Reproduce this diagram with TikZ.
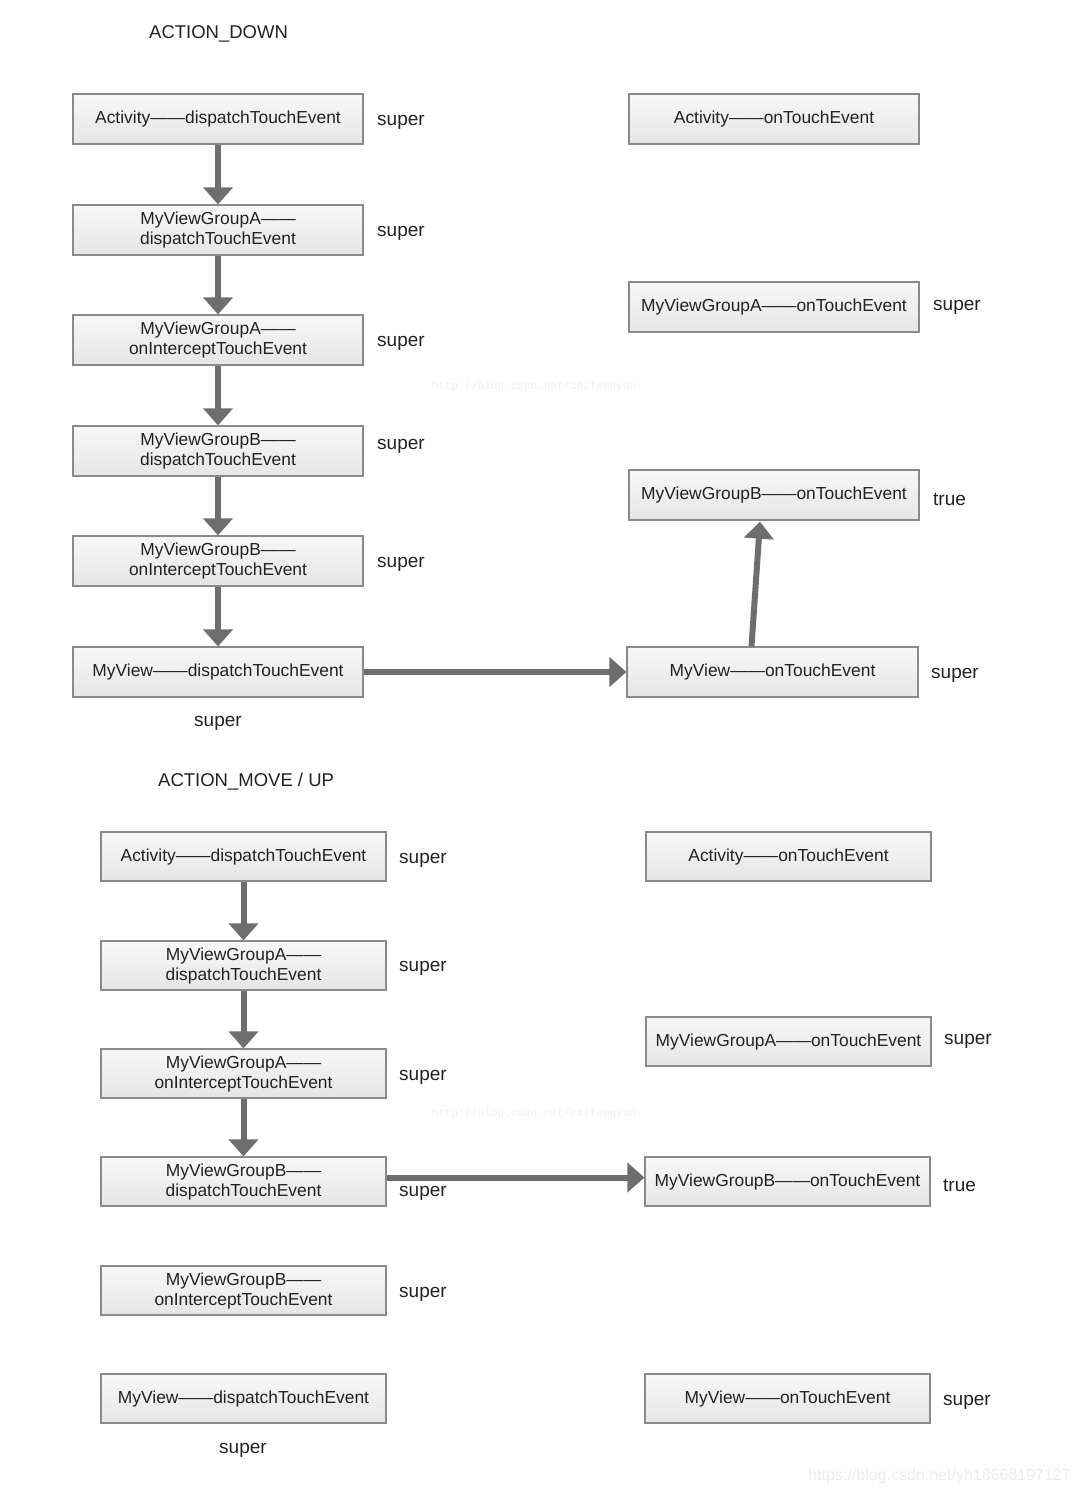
\documentclass[tikz,border=0pt]{standalone}
\usepackage{fontspec}
\setmainfont{Liberation Sans}
\newfontfamily\wmfont{Liberation Mono}
\usetikzlibrary{arrows.meta,shadings}
\definecolor{arrowgray}{HTML}{6E6E6E}
\definecolor{boxborder}{HTML}{8A8A8A}
\definecolor{txt}{HTML}{222222}
\tikzset{
  fbox/.style={draw=boxborder, line width=1.2pt, top color=gray!6, bottom color=gray!20,
    minimum height=50pt, inner sep=0pt, align=center, font=\fontsize{17.4}{20}\selectfont, text=txt},
  wbox/.style={fbox, minimum width=290pt},
  nbox/.style={fbox, minimum width=285pt, minimum height=49pt},
  lbl/.style={anchor=west, font=\fontsize{19}{22}\selectfont, text=txt, inner sep=0pt},
  clbl/.style={font=\fontsize{19}{22}\selectfont, text=txt, inner sep=0pt},
  title/.style={anchor=west, font=\fontsize{18.5}{22}\selectfont, text=txt, inner sep=0pt},
  flow/.style={draw=arrowgray, line width=6pt, -{Triangle[width=29pt,length=17pt]}},
  wm/.style={font=\wmfont\fontsize{11}{12}\selectfont, text=gray!12, inner sep=0pt},
}
\begin{document}
\begin{tikzpicture}[x=1pt,y=-1pt]
\useasboundingbox (0,0) rectangle (1080,1493);
\fill[white] (0,0) rectangle (1080,1493);

% ---------- ACTION_DOWN ----------
\node[title] (t1) at (149,34) {ACTION\_DOWN};

\node[wbox] (a1) at (218,119) {Activity——dispatchTouchEvent};
\node[wbox] (a2) at (218,230) {MyViewGroupA——\\dispatchTouchEvent};
\node[wbox] (a3) at (218,340) {MyViewGroupA——\\onInterceptTouchEvent};
\node[wbox] (a4) at (218,451) {MyViewGroupB——\\dispatchTouchEvent};
\node[wbox] (a5) at (218,561) {MyViewGroupB——\\onInterceptTouchEvent};
\node[wbox] (a6) at (218,672) {MyView——dispatchTouchEvent};

\node[wbox] (r1) at (774,119) {Activity——onTouchEvent};
\node[wbox] (r2) at (774,307) {MyViewGroupA——onTouchEvent};
\node[wbox] (r3) at (774,495) {MyViewGroupB——onTouchEvent};
\node[wbox, minimum width=291pt] (r4) at (772.5,672) {MyView——onTouchEvent};

\node[lbl] (la1) at (377,122) {super};
\node[lbl] (la2) at (377,233) {super};
\node[lbl] (la3) at (377,343) {super};
\node[lbl] (la4) at (377,446) {super};
\node[lbl] (la5) at (377,564) {super};
\node[clbl] (la6) at (218,723) {super};
\node[lbl] (lr2) at (933,307) {super};
\node[lbl] (lr3) at (933,499) {true};
\node[lbl] (lr4) at (931,675) {super};

\draw[flow] (a1.south) -- (a2.north);
\draw[flow] (a2.south) -- (a3.north);
\draw[flow] (a3.south) -- (a4.north);
\draw[flow] (a4.south) -- (a5.north);
\draw[flow] (a5.south) -- (a6.north);
\draw[flow] (a6.east) -- (r4.west);
\draw[flow] ([xshift=-21pt]r4.north) -- ([xshift=-14pt,yshift=-1pt]r3.south);

\node[wm] (wm1) at (534,387) {http://blog.csdn.net/caifengyao};

% ---------- ACTION_MOVE / UP ----------
\node[title] (t2) at (158,782) {ACTION\_MOVE / UP};

\node[nbox] (b1) at (243.5,856.5) {Activity——dispatchTouchEvent};
\node[nbox] (b2) at (243.5,965.5) {MyViewGroupA——\\dispatchTouchEvent};
\node[nbox] (b3) at (243.5,1073.5) {MyViewGroupA——\\onInterceptTouchEvent};
\node[nbox] (b4) at (243.5,1181.5) {MyViewGroupB——\\dispatchTouchEvent};
\node[nbox] (b5) at (243.5,1290.5) {MyViewGroupB——\\onInterceptTouchEvent};
\node[nbox] (b6) at (243.5,1398.5) {MyView——dispatchTouchEvent};

\node[nbox] (c1) at (788.5,856.5) {Activity——onTouchEvent};
\node[nbox] (c2) at (788.5,1041.5) {MyViewGroupA——onTouchEvent};
\node[nbox] (c3) at (787.5,1181.5) {MyViewGroupB——onTouchEvent};
\node[nbox] (c4) at (787.5,1398.5) {MyView——onTouchEvent};

\node[lbl] (lb1) at (399,860) {super};
\node[lbl] (lb2) at (399,968) {super};
\node[lbl] (lb3) at (399,1077) {super};
\node[lbl] (lb4) at (399,1193) {super};
\node[lbl] (lb5) at (399,1294) {super};
\node[clbl] (lb6) at (243,1450) {super};
\node[lbl] (lc2) at (944,1041) {super};
\node[lbl] (lc3) at (943,1185) {true};
\node[lbl] (lc4) at (943,1402) {super};

\draw[flow] (b1.south) -- (b2.north);
\draw[flow] (b2.south) -- (b3.north);
\draw[flow] (b3.south) -- (b4.north);
\draw[flow] ([yshift=4pt]b4.east) -- ([yshift=4pt]c3.west);

\node[wm] (wm2) at (534,1114) {http://blog.csdn.net/caifengyao};
\node[font=\fontsize{16}{18}\selectfont, text=gray!14, anchor=east, inner sep=0pt] (wm3) at (1071,1476) {https://blog.csdn.net/yh18668197127};
\end{tikzpicture}
\end{document}
